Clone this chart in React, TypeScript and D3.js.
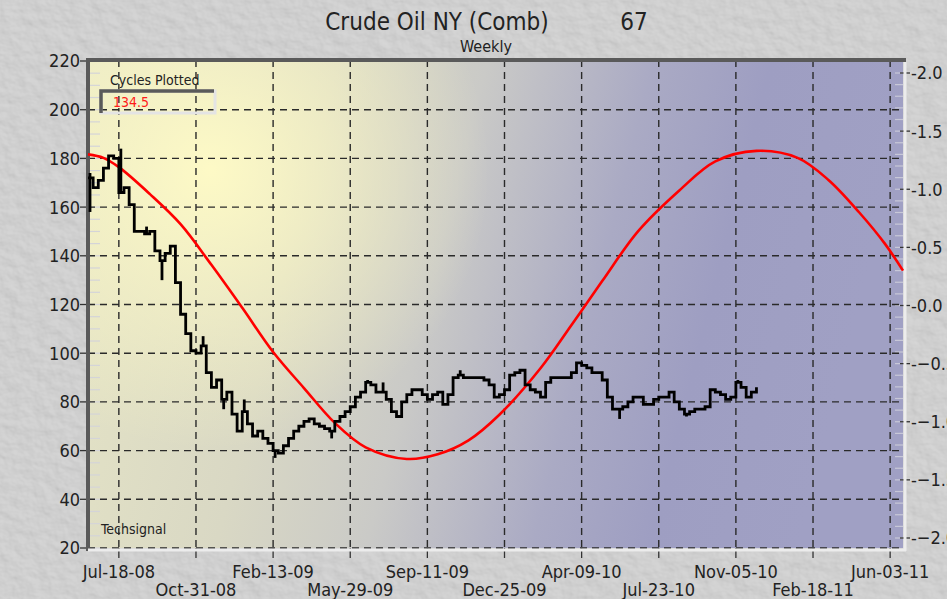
import React, { useEffect, useRef } from "react";
import * as d3 from "d3";

// weekly series, week 0 = Jun-06-08
const startDate = new Date(2008, 5, 6);
const dateTicks = [
  "2008-07-18", "2008-10-31", "2009-02-13", "2009-05-29", "2009-09-11", "2009-12-25",
  "2010-04-09", "2010-07-23", "2010-11-05", "2011-02-18", "2011-06-03",
];
const closes = [
  172, 168, 171, 176, 181, 180, 166, 168, 161, 150, 150, 149, 150, 142, 138, 141, 144, 129, 116, 108,
  101, 100, 103, 92, 86, 89, 81, 84, 75, 68, 76, 71, 66, 68, 65, 63, 60, 59, 62, 65,
  68, 70, 72, 73, 71, 70, 69, 68, 72, 74, 76, 78, 82, 84, 88, 87, 84, 84, 81, 76,
  74, 80, 83, 85, 85, 83, 81, 83, 84, 79, 83, 90, 91, 90, 90, 90, 90, 89, 87, 82,
  83, 85, 91, 92, 93, 87, 85, 84, 82, 88, 90, 90, 90, 90, 92, 96, 95, 94, 92, 92,
  89, 82, 77, 77, 78, 80, 82, 82, 79, 79, 81, 82, 82, 84, 80, 77, 75, 76, 77, 77,
  78, 85, 84, 83, 81, 82, 88, 86, 82, 84, 86,
];
// weekly extremes sticking out of the close line
const spikeWeeks = [0, 0, 6, 11, 14, 22, 26, 30, 36, 47, 54, 57, 72, 103, 116, 126];
const spikeValues = [158, 174, 184, 152, 130, 107, 77, 81, 57, 65, 89, 88, 93, 73, 74, 89];

// cycle line (134.5 weeks)
const cycleWeeks = [0, 3, 6, 12, 18, 24, 30, 36, 42, 48, 54, 62, 68, 74, 80, 88, 94, 100, 107, 115, 122, 130, 138, 144, 150, 155, 158.5];
const cycleValues = [1.3, 1.27, 1.19, 0.96, 0.7, 0.35, -0.02, -0.4, -0.71, -1.01, -1.22, -1.32, -1.28, -1.16, -0.94, -0.54, -0.17, 0.21, 0.64, 0.99, 1.24, 1.33, 1.27, 1.08, 0.8, 0.53, 0.3];

const priceTicks = [220, 200, 180, 160, 140, 120, 100, 80, 60, 40, 20];
const cycleTicks = [2.0, 1.5, 1.0, 0.5, 0.0, -0.5, -1.0, -1.5, -2.0];

const W = 947, H = 599;
const left = 88, right = 903, top = 60, bottom = 548;
const font = "'DejaVu Sans Condensed', 'DejaVu Sans', sans-serif";

export default function App() {
  const ref = useRef<SVGSVGElement>(null);

  useEffect(() => {
    const svg = d3.select(ref.current);
    svg.selectAll("*").remove();

    const weekDate = (i: number) => d3.timeHour.offset(startDate, Math.round(i * 168));
    const x = d3.scaleTime().domain([startDate, weekDate(158.5)]).range([left, right]);
    const y = d3.scaleLinear().domain([20, 220]).range([bottom, top + 1]);
    const yR = d3.scaleLinear().domain([-2, 2]).range([538, 73]);
    const parse = d3.timeParse("%Y-%m-%d");
    const tickDates = dateTicks.map((d) => parse(d) as Date);
    const fmt = d3.timeFormat("%b-%d-%y");

    const defs = svg.append("defs");
    const f = defs.append("filter").attr("id", "stucco").attr("x", 0).attr("y", 0).attr("width", "100%").attr("height", "100%");
    f.append("feTurbulence").attr("type", "fractalNoise").attr("baseFrequency", "0.07 0.09").attr("numOctaves", 3).attr("seed", 11).attr("result", "n");
    f.append("feDiffuseLighting").attr("in", "n").attr("lighting-color", "#dcdcdc").attr("surfaceScale", 1.4)
      .append("feDistantLight").attr("azimuth", 135).attr("elevation", 60);

    const lg = defs.append("linearGradient").attr("id", "plotbg").attr("x1", "0").attr("x2", "1").attr("y1", "0").attr("y2", "0.15");
    [["0%", "#e6e5c6"], ["30%", "#d9d8c4"], ["48%", "#cacac7"], ["68%", "#aaaac4"], ["82%", "#9e9ec2"], ["100%", "#a0a0c4"]].forEach(([o, c]) =>
      lg.append("stop").attr("offset", o).attr("stop-color", c));
    const rg = defs.append("radialGradient").attr("id", "glow").attr("gradientUnits", "userSpaceOnUse")
      .attr("cx", 210).attr("cy", 170).attr("r", 280);
    rg.append("stop").attr("offset", "0%").attr("stop-color", "#fffbc6").attr("stop-opacity", 0.95);
    rg.append("stop").attr("offset", "100%").attr("stop-color", "#fffbc6").attr("stop-opacity", 0);

    // textured background
    svg.append("rect").attr("width", W).attr("height", H).attr("fill", "#d2d2d2");
    svg.append("rect").attr("width", W).attr("height", H).attr("filter", "url(#stucco)").attr("opacity", 0.5);

    // plot area
    svg.append("rect").attr("x", left).attr("y", top).attr("width", right - left).attr("height", bottom - top).attr("fill", "url(#plotbg)");
    svg.append("rect").attr("x", left).attr("y", top).attr("width", right - left).attr("height", bottom - top).attr("fill", "url(#glow)");

    // title
    svg.append("text").attr("x", 437).attr("y", 30).attr("text-anchor", "middle").style("font-family", font).style("font-size", "24px").attr("fill", "#222").text("Crude Oil NY (Comb)");
    svg.append("text").attr("x", 634).attr("y", 30).attr("text-anchor", "middle").style("font-family", font).style("font-size", "24px").attr("fill", "#222").text("67");
    svg.append("text").attr("x", 486).attr("y", 52).attr("text-anchor", "middle").style("font-family", font).style("font-size", "16px").attr("fill", "#222").text("Weekly");

    // minor ticks inside the plot
    const g = svg.append("g");
    g.selectAll(".minorL").data(d3.range(20, 221, 5)).join("line")
      .attr("x1", left + 2).attr("x2", left + 12).attr("y1", (d) => y(d)).attr("y2", (d) => y(d))
      .attr("stroke", "#d4d4d8").attr("stroke-width", 1.2);
    g.selectAll(".minorR").data(d3.range(-20, 21, 1).map((d) => d / 10)).join("line")
      .attr("x1", right - 8).attr("x2", right).attr("y1", (d) => yR(d)).attr("y2", (d) => yR(d))
      .attr("stroke", "#c8c8d8").attr("stroke-width", 1.2);

    // grid
    g.selectAll(".hgrid").data(priceTicks.filter((d) => d < 220)).join("line")
      .attr("x1", left).attr("x2", right).attr("y1", (d) => y(d)).attr("y2", (d) => y(d))
      .attr("stroke", "#2a2a2a").attr("stroke-width", 1.4).attr("stroke-dasharray", "7,5");
    g.selectAll(".vgrid").data(tickDates).join("line")
      .attr("x1", (d) => x(d)).attr("x2", (d) => x(d)).attr("y1", top).attr("y2", bottom)
      .attr("stroke", "#2a2a2a").attr("stroke-width", 1.4).attr("stroke-dasharray", "7,5");

    // frame: dark top/left, light bottom/right
    svg.append("line").attr("x1", left - 2).attr("x2", right + 3).attr("y1", top).attr("y2", top).attr("stroke", "#5a5a5a").attr("stroke-width", 4);
    svg.append("line").attr("x1", left).attr("x2", left).attr("y1", top - 2).attr("y2", bottom + 3).attr("stroke", "#5a5a5a").attr("stroke-width", 4);
    svg.append("line").attr("x1", left).attr("x2", right + 3).attr("y1", bottom + 2).attr("y2", bottom + 2).attr("stroke", "#ececec").attr("stroke-width", 3);
    svg.append("line").attr("x1", right + 2).attr("x2", right + 2).attr("y1", top + 2).attr("y2", bottom + 3).attr("stroke", "#ececec").attr("stroke-width", 3);

    // left axis
    g.selectAll(".lt").data(priceTicks).join("line")
      .attr("x1", left - 8).attr("x2", left).attr("y1", (d) => y(d)).attr("y2", (d) => y(d)).attr("stroke", "#333").attr("stroke-width", 1.3);
    g.selectAll(".ll").data(priceTicks).join("text")
      .attr("x", left - 8).attr("y", (d) => y(d)).attr("dy", "0.36em").attr("text-anchor", "end")
      .style("font-family", font).style("font-size", "18px").attr("fill", "#222").text((d) => d);

    // right axis (labels run off the edge as in the source)
    g.selectAll(".rt").data(cycleTicks).join("line")
      .attr("x1", right - 3).attr("x2", right + 7).attr("y1", (d) => yR(d)).attr("y2", (d) => yR(d)).attr("stroke", "#333").attr("stroke-width", 1.3);
    g.selectAll(".rl").data(cycleTicks).join("text")
      .attr("x", right + 8).attr("y", (d) => yR(d)).attr("dy", "0.36em")
      .style("font-family", font).style("font-size", "18px").attr("fill", "#222").text((d) => "-" + d3.format(".1f")(d));

    // bottom axis
    g.selectAll(".bt").data(tickDates).join("line")
      .attr("x1", (d) => x(d)).attr("x2", (d) => x(d)).attr("y1", bottom).attr("y2", bottom + 10).attr("stroke", "#333").attr("stroke-width", 1.3);
    g.selectAll(".bl").data(tickDates).join("text")
      .attr("x", (d) => x(d)).attr("y", (d, i) => (i % 2 === 0 ? 578 : 596)).attr("text-anchor", "middle")
      .style("font-family", font).style("font-size", "18px").attr("fill", "#222").text((d) => fmt(d));

    // cycles box
    svg.append("text").attr("x", 110).attr("y", 85).style("font-family", font).style("font-size", "14px").attr("fill", "#222").text("Cycles Plotted");
    svg.append("rect").attr("x", 101).attr("y", 91).attr("width", 114).attr("height", 22).attr("fill", "none").attr("stroke", "#e4e4e4").attr("stroke-width", 3);
    svg.append("path").attr("d", `M101,113 V91 H214`).attr("fill", "none").attr("stroke", "#5a5a5a").attr("stroke-width", 3.5);
    svg.append("text").attr("x", 113).attr("y", 107).style("font-family", font).style("font-size", "14px").attr("fill", "#ff1a1a").text("134.5");
    svg.append("text").attr("x", 101).attr("y", 534).style("font-family", font).style("font-size", "14px").attr("fill", "#222").text("Techsignal");

    // cycle line
    const cycleLine = d3.line<number>()
      .x((d, i) => x(weekDate(cycleWeeks[i])))
      .y((d) => yR(d))
      .curve(d3.curveCatmullRom);
    svg.append("path").datum(cycleValues).attr("d", cycleLine).attr("fill", "none").attr("stroke", "#ff0000").attr("stroke-width", 2.6);

    // price line
    const priceLine = d3.line<number>()
      .x((d, i) => x(weekDate(i)))
      .y((d) => y(d))
      .curve(d3.curveStepAfter);
    svg.append("path").datum(closes).attr("d", priceLine).attr("fill", "none").attr("stroke", "#000").attr("stroke-width", 2.8).attr("stroke-linejoin", "miter");
    svg.selectAll(".spike").data(spikeWeeks).join("line")
      .attr("x1", (d) => x(weekDate(d)) + 2).attr("x2", (d) => x(weekDate(d)) + 2)
      .attr("y1", (d) => y(closes[d])).attr("y2", (d, i) => y(spikeValues[i]))
      .attr("stroke", "#000").attr("stroke-width", 2.8);
  }, []);

  return (
    <svg ref={ref} width={W} height={H} style={{ position: "absolute", left: 0, top: 0, display: "block" }}></svg>
  );
}
